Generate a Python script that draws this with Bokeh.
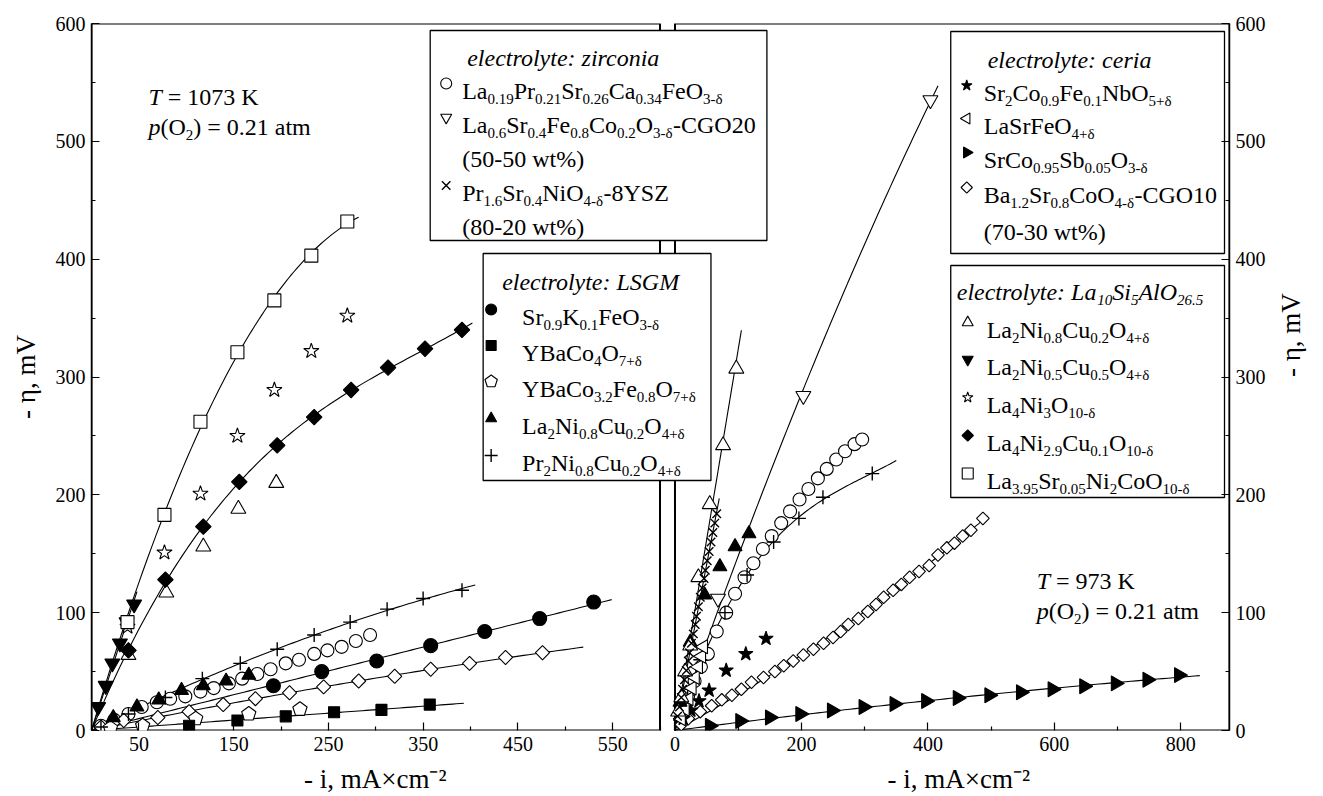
import numpy as np
from bokeh.plotting import figure
from bokeh.models import Range1d, LinearAxis, FixedTicker, Label
from bokeh.embed import file_html
from bokeh.resources import INLINE

# ---------------- DATA : left panel (T = 1073 K) ----------------
L_ocircle_x = [10, 24, 39, 53, 69, 83, 99, 115, 129, 145, 159, 175, 189, 205, 219, 235, 249, 264, 279, 294]
L_ocircle_y = [4, 9, 14, 20, 24, 27, 29, 33, 36, 40, 44, 48, 52, 57, 60, 65, 68, 71, 76, 81]
L_fcircle_x = [192, 243, 301, 358, 415, 473, 530]
L_fcircle_y = [38, 50, 59, 72, 84, 95, 109]
L_fsquare_x = [103, 154, 205, 256, 306, 357]
L_fsquare_y = [4, 8.5, 12, 15.5, 17.5, 22]
L_pent_x = [20, 54, 110, 166, 220]
L_pent_y = [2, 4, 10, 14, 18]
L_ftri_x = [23, 48, 71, 95, 118, 142, 166]
L_ftri_y = [11, 20, 26, 34, 38, 42, 47]
L_plus_x = [10, 39, 78, 117, 157, 196, 235, 273, 312, 350, 391]
L_plus_y = [3, 14, 28, 44, 57, 69, 81, 92, 103, 112, 119]
L_otri_x = [39, 79, 118, 155, 195]
L_otri_y = [64, 117, 156, 188, 210]
L_finv_x = [7, 15, 22, 30, 37, 45]
L_finv_y = [20, 38, 57, 74, 92, 107]
L_ostar_x = [38, 77, 115, 154, 193, 232, 270]
L_ostar_y = [88, 151, 201, 250, 289, 322, 352]
L_fdiam_x = [39, 78, 118, 156, 196, 235, 274, 313, 352, 391]
L_fdiam_y = [68, 128, 173, 211, 242, 266, 289, 308, 324, 340]
L_osquare_x = [38, 77, 115, 154, 193, 232, 270]
L_osquare_y = [92, 183, 262, 321, 365, 403, 432]
L_odiam_x = [10, 34, 70, 103, 139, 173, 209, 245, 282, 320, 358, 399, 437, 476]
L_odiam_y = [3, 8.5, 11, 16, 22, 27, 32, 37, 42, 46, 52, 57, 62, 66]

# ---------------- DATA : right panel (T = 973 K) ----------------
R_ocircle_x = [10, 21, 31, 41, 52, 66, 81, 95, 110, 124, 139, 153, 168, 182, 197, 211, 226, 240, 255, 269, 284, 296]
R_ocircle_y = [15, 30, 42, 54, 65, 84, 100, 116, 130, 142, 154, 165, 176, 186, 196, 205, 214, 222, 230, 237, 243, 247]
R_oinv_x = [68, 203, 404]
R_oinv_y = [112, 284, 535]
R_x_x = [4, 7, 10, 12, 15, 18, 21, 23, 26, 29, 32, 34, 37, 40, 43, 46, 48, 51, 54, 57, 60, 63, 66]
R_x_y = [12, 20, 28, 35, 43, 51, 59, 66, 74, 82, 90, 97, 105, 113, 121, 129, 136, 144, 152, 160, 168, 176, 184]
R_fstar_x = [13, 25, 38, 54, 81, 112, 144]
R_fstar_y = [10, 17, 25, 34, 51, 65, 78]
R_ltri_x = [10, 16, 22, 27, 32, 37, 42, 45]
R_ltri_y = [10, 18, 27, 36, 45, 54, 63, 71]
R_rtri_x = [55, 103, 150, 198, 248, 298, 347, 397, 447, 497, 547, 597, 647, 697, 747, 797]
R_rtri_y = [4, 8, 11, 14, 17, 20, 22.5, 25, 27.5, 30, 32.5, 35, 37.5, 40, 43, 47]
R_odiam_x = [10, 21, 40, 58, 74, 90, 105, 121, 140, 158, 172, 187, 203, 219, 235, 250, 262, 274, 290,
             305, 318, 330, 345, 358, 371, 386, 402, 416, 430, 442, 455, 468, 487]
R_odiam_y = [5, 10, 16, 21, 26, 30, 35, 41, 45, 50, 55, 59, 64, 69, 74, 79, 84, 90, 95,
             101, 107, 113, 119, 124, 130, 135, 140, 149, 155, 159, 165, 170, 180]
R_otri_x = [5, 10, 16, 24, 37, 55, 76, 97]
R_otri_y = [16, 28, 50, 72, 130, 192, 242, 307]
R_ftri_x = [8, 24, 47, 71, 95, 117]
R_ftri_y = [24, 75, 115, 139, 156, 167]
R_plus_x = [20, 40, 79, 114, 156, 196, 234, 312]
R_plus_y = [30, 60, 100, 132, 160, 180, 198, 218]

# axis ticks / labels
Y_TICKS = [0, 100, 200, 300, 400, 500, 600]
Y_MINOR = [50, 150, 250, 350, 450, 550]
XL_TICKS = [50, 150, 250, 350, 450, 550]
XL_MINOR = [100, 200, 300, 400, 500, 600]
XR_TICKS = [0, 200, 400, 600, 800]
XR_MINOR = [100, 300, 500, 700]
Y_TITLE = "- η, mV"
X_TITLE = "- i, mA×cm⁻²"

# ---------------- layout ----------------
W, H = 1323, 796
F_LEFT, F_RIGHT, F_TOP, F_BOTTOM = 91, 1230, 23, 730
L_PANEL_RIGHT, R_PANEL_LEFT = 660, 675
L_XMAX, R_XMAX, YMAX = 600, 877, 600
KXL = (L_PANEL_RIGHT - F_LEFT) / L_XMAX
KXR = (F_RIGHT - R_PANEL_LEFT) / R_XMAX
KY = (F_BOTTOM - F_TOP) / YMAX


def X(px):
    return (px - F_LEFT) / KXL


def Y(py):
    return (F_BOTTOM - py) / KY


def r2l(v):
    """position of a right-panel x value on the left-panel (default) x range"""
    return round(X(R_PANEL_LEFT + v * KXR), 4)


p = figure(width=W, height=H, output_backend="svg", toolbar_location=None,
           x_range=Range1d(0, (F_RIGHT - F_LEFT) / KXL), y_range=Range1d(0, YMAX),
           x_axis_type=None, y_axis_type=None,
           min_border_left=F_LEFT, min_border_right=W - F_RIGHT,
           min_border_top=F_TOP, min_border_bottom=H - F_BOTTOM)
p.extra_x_ranges = {"R": Range1d(-(R_PANEL_LEFT - F_LEFT) / KXR, R_XMAX)}
p.outline_line_color = None
p.background_fill_color = "white"
p.border_fill_color = "white"

FONT = "Liberation Serif"


def style_axis(ax):
    ax.major_tick_in = 8
    ax.major_tick_out = 0
    ax.minor_tick_in = 4
    ax.minor_tick_out = 0
    ax.axis_line_width = 1.5
    ax.major_tick_line_width = 1.2
    ax.minor_tick_line_width = 1.2
    ax.major_label_text_font = FONT
    ax.major_label_text_font_size = "20px"
    ax.major_label_text_color = "black"
    ax.major_label_standoff = 6
    ax.axis_label_text_font = FONT
    ax.axis_label_text_font_size = "27px"
    ax.axis_label_text_font_style = "normal"
    ax.axis_label_text_color = "black"


yl = LinearAxis(ticker=FixedTicker(ticks=Y_TICKS, minor_ticks=Y_MINOR), axis_label=Y_TITLE)
style_axis(yl)
yl.axis_label_standoff = 12
p.add_layout(yl, "left")

yr = LinearAxis(ticker=FixedTicker(ticks=Y_TICKS, minor_ticks=Y_MINOR), axis_label=Y_TITLE)
style_axis(yr)
yr.axis_label_standoff = 22
try:
    yr.axis_label_orientation = np.pi / 2
except Exception:
    pass
p.add_layout(yr, "right")

# one bottom axis carries the ticks of both panels
xb_ticks = [float(v) for v in XL_TICKS] + [r2l(v) for v in XR_TICKS]
xb_minor = [float(v) for v in XL_MINOR] + [r2l(v) for v in XR_MINOR]
xb_labels = {float(v): str(v) for v in XL_TICKS}
xb_labels.update({r2l(v): str(v) for v in XR_TICKS})
xb = LinearAxis(ticker=FixedTicker(ticks=xb_ticks, minor_ticks=xb_minor),
                major_label_overrides=xb_labels)
style_axis(xb)
xb.axis_line_color = None
p.add_layout(xb, "below")

# second bottom axis only carries the two axis titles
t_left, t_right = round(X(375), 4), round(X(959), 4)
xt = LinearAxis(ticker=FixedTicker(ticks=[t_left, t_right], minor_ticks=[]),
                major_label_overrides={t_left: X_TITLE, t_right: X_TITLE})
xt.axis_line_color = None
xt.major_tick_line_color = None
xt.minor_tick_line_color = None
xt.major_label_text_font = FONT
xt.major_label_text_font_size = "27px"
xt.major_label_text_color = "black"
xt.major_label_standoff = 4
p.add_layout(xt, "below")

# panel frames
p.quad(left=[0], right=[L_XMAX], bottom=[0], top=[YMAX], fill_color=None, line_color="black", line_width=2)
p.quad(left=[0], right=[R_XMAX], bottom=[0], top=[YMAX], fill_color=None, line_color="black",
       line_width=2, x_range_name="R")


# ---------------- helpers ----------------
def fit_origin(xs, ys, deg, x_end):
    xs = np.asarray(xs, float)
    ys = np.asarray(ys, float)
    A = np.column_stack([xs ** k for k in range(1, deg + 1)])
    coef = np.linalg.lstsq(A, ys, rcond=None)[0]
    xx = np.linspace(0, x_end, 100)
    yy = np.zeros_like(xx)
    for k, c in enumerate(coef, start=1):
        yy += c * xx ** k
    return xx, yy


def fline(xs, ys, deg, x_end, rng="default"):
    xx, yy = fit_origin(xs, ys, deg, x_end)
    p.line(xx, yy, line_color="black", line_width=1.1, x_range_name=rng)


STY = {
    'ocircle': dict(marker='circle', fill_color='white'),
    'fcircle': dict(marker='circle', fill_color='black'),
    'osquare': dict(marker='square', fill_color='white'),
    'fsquare': dict(marker='square', fill_color='black'),
    'otri': dict(marker='triangle', fill_color='white'),
    'ftri': dict(marker='triangle', fill_color='black'),
    'oinv': dict(marker='inverted_triangle', fill_color='white'),
    'finv': dict(marker='inverted_triangle', fill_color='black'),
    'odiam': dict(marker='square', fill_color='white', angle=np.pi / 4),
    'fdiam': dict(marker='square', fill_color='black', angle=np.pi / 4),
    'ostar': dict(marker='star', fill_color='white'),
    'fstar': dict(marker='star', fill_color='black'),
    'plus': dict(marker='cross', fill_color=None),
    'x': dict(marker='x', fill_color=None),
    'ltri': dict(marker='triangle', fill_color='white', angle=np.pi / 2),
    'rtri': dict(marker='triangle', fill_color='black', angle=-np.pi / 2),
}


def mk(xs, ys, kind, size, rng="default"):
    st = dict(STY[kind])
    lw = 1.4 if kind in ('plus', 'x') else 1.1
    p.scatter(xs, ys, size=size, line_color="black", line_width=lw, x_range_name=rng, **st)


def pent(xs, ys, r, rng="default", fill="white"):
    kx = KXL if rng == "default" else KXR
    px, py = [], []
    for x0, y0 in zip(xs, ys):
        ang = np.pi / 2 + 2 * np.pi * np.arange(5) / 5
        px.append(list(x0 + r * np.cos(ang) / kx))
        py.append(list(y0 + r * np.sin(ang) / KY))
    p.patches(px, py, fill_color=fill, line_color="black", line_width=1.1, x_range_name=rng)


# ---------------- left panel ----------------
fline(L_osquare_x, L_osquare_y, 3, 282)
fline(L_fdiam_x, L_fdiam_y, 3, 402)
fline(L_plus_x, L_plus_y, 2, 405)
fline(L_fcircle_x, L_fcircle_y, 1, 549)
fline(L_odiam_x, L_odiam_y, 2, 519)
fline(L_fsquare_x, L_fsquare_y, 1, 393)
fline(L_finv_x, L_finv_y, 1, 48)

mk(L_ocircle_x, L_ocircle_y, 'ocircle', 13)
mk(L_odiam_x, L_odiam_y, 'odiam', 10)
pent(L_pent_x, L_pent_y, 7.5)
mk(L_fsquare_x, L_fsquare_y, 'fsquare', 11)
mk(L_fcircle_x, L_fcircle_y, 'fcircle', 14)
mk(L_ftri_x, L_ftri_y, 'ftri', 14)
mk(L_plus_x, L_plus_y, 'plus', 14)
mk(L_otri_x, L_otri_y, 'otri', 15)
mk(L_finv_x, L_finv_y, 'finv', 15)
mk(L_ostar_x, L_ostar_y, 'ostar', 16)
mk(L_fdiam_x, L_fdiam_y, 'fdiam', 11)
mk(L_osquare_x, L_osquare_y, 'osquare', 13)

# ---------------- right panel ----------------
R = "R"
fline(R_oinv_x, R_oinv_y, 2, 416, R)
fline(R_otri_x, R_otri_y, 1, 105, R)
fline(R_x_x, R_x_y, 1, 70, R)
fline(R_plus_x, R_plus_y, 3, 350, R)
fline(R_odiam_x, R_odiam_y, 2, 495, R)
fline(R_rtri_x, R_rtri_y, 2, 830, R)

mk(R_odiam_x, R_odiam_y, 'odiam', 9, R)
mk(R_rtri_x, R_rtri_y, 'rtri', 15, R)
mk(R_fstar_x, R_fstar_y, 'fstar', 15, R)
mk(R_ocircle_x, R_ocircle_y, 'ocircle', 13, R)
mk(R_plus_x, R_plus_y, 'plus', 14, R)
mk(R_ltri_x, R_ltri_y, 'ltri', 14, R)
mk(R_ftri_x, R_ftri_y, 'ftri', 14, R)
mk(R_otri_x, R_otri_y, 'otri', 15, R)
mk(R_x_x, R_x_y, 'x', 12, R)
mk(R_oinv_x, R_oinv_y, 'oinv', 15, R)

# ---------------- rich text (sub/superscripts) ----------------
REG = {' ': 250, '(': 333, ')': 333, '%': 833, '+': 564, ',': 250, '-': 333, '.': 250, ':': 278,
       '=': 564, '×': 564, 'δ': 500, 'η': 500,
       'A': 722, 'B': 667, 'C': 667, 'D': 722, 'E': 611, 'F': 556, 'G': 722, 'H': 722, 'I': 333,
       'J': 389, 'K': 722, 'L': 611, 'M': 889, 'N': 722, 'O': 722, 'P': 556, 'Q': 722, 'R': 667,
       'S': 556, 'T': 611, 'U': 722, 'V': 722, 'W': 944, 'X': 722, 'Y': 722, 'Z': 611,
       'a': 444, 'b': 500, 'c': 444, 'd': 500, 'e': 444, 'f': 333, 'g': 500, 'h': 500, 'i': 278,
       'j': 278, 'k': 500, 'l': 278, 'm': 778, 'n': 500, 'o': 500, 'p': 500, 'q': 500, 'r': 333,
       's': 389, 't': 278, 'u': 500, 'v': 500, 'w': 722, 'x': 500, 'y': 500, 'z': 444}
ITA = {' ': 250, ':': 333, '.': 250, '-': 333, 'η': 500,
       'A': 611, 'G': 722, 'I': 333, 'L': 556, 'M': 833, 'O': 722, 'S': 500, 'T': 556,
       'a': 500, 'b': 500, 'c': 444, 'd': 500, 'e': 444, 'f': 278, 'g': 500, 'h': 500, 'i': 278,
       'l': 278, 'n': 500, 'o': 500, 'p': 500, 'r': 389, 's': 389, 't': 278, 'y': 444, 'z': 389}


def tw(s, size, ital):
    tab = ITA if ital else REG
    return sum(tab.get(ch, 500) for ch in s) * size / 1000.0


def parse(s, italic):
    out = []
    ital = italic
    buf = ''
    i = 0
    while i < len(s):
        ch = s[i]
        if ch == '~':
            if buf:
                out.append((buf, 'n', ital))
                buf = ''
            ital = not ital
            i += 1
        elif ch in '_^' and i + 1 < len(s) and s[i + 1] == '{':
            if buf:
                out.append((buf, 'n', ital))
                buf = ''
            j = s.index('}', i)
            out.append((s[i + 2:j], 'sub' if ch == '_' else 'sup', ital))
            i = j + 1
        else:
            buf += ch
            i += 1
    if buf:
        out.append((buf, 'n', ital))
    return out


def rich(px, py, s, size=24, italic=False, sub=15, sup=16):
    cur = 0.0
    for text, kind, ital in parse(s, italic):
        fs = size if kind == 'n' else (sub if kind == 'sub' else sup)
        off = 0.0 if kind == 'n' else (0.34 * size if kind == 'sub' else -0.42 * size)
        lead = len(text) - len(text.lstrip(' '))
        cur += tw(' ' * lead, fs, ital)
        body = text.strip(' ')
        if body:
            p.add_layout(Label(x=X(px + cur), y=Y(py + off), text=body,
                               text_font=FONT, text_font_size=f"{fs}px",
                               text_font_style="italic" if ital else "normal",
                               text_color="black", text_baseline="alphabetic", text_align="left"))
            cur += tw(body, fs, ital)
            trail = len(text) - len(text.rstrip(' '))
            cur += tw(' ' * trail, fs, ital)


def box(x0, y0, x1, y1):
    p.quad(left=[X(x0)], right=[X(x1)], top=[Y(y0)], bottom=[Y(y1)],
           fill_color="white", line_color="black", line_width=1.3)


def lmk(px, py, kind, size):
    if kind == 'pent':
        pent([X(px)], [Y(py)], 6.5)
    else:
        mk([X(px)], [Y(py)], kind, size)


# ---------------- legend boxes ----------------
box(430, 30, 767, 240)
box(483, 253, 711, 480)
box(951, 31, 1225, 253)
box(951, 265, 1225, 497)

# zirconia
rich(467, 57, "electrolyte: zirconia", italic=True)
zr_rows = [('ocircle', 83, "La_{0.19}Pr_{0.21}Sr_{0.26}Ca_{0.34}FeO_{3-δ}"),
           ('oinv', 117, "La_{0.6}Sr_{0.4}Fe_{0.8}Co_{0.2}O_{3-δ}-CGO20"),
           (None, 151, "(50-50 wt%)"),
           ('x', 185, "Pr_{1.6}Sr_{0.4}NiO_{4-δ}-8YSZ"),
           (None, 219, "(80-20 wt%)")]
for kind, cy, txt in zr_rows:
    if kind:
        lmk(446, cy, kind, 11 if kind != 'x' else 12)
    rich(462, cy + 7, txt)

# LSGM
rich(502, 281, "electrolyte: LSGM", italic=True)
lsgm_rows = [('fcircle', 309, "Sr_{0.9}K_{0.1}FeO_{3-δ}"),
             ('fsquare', 345, "YBaCo_{4}O_{7+δ}"),
             ('pent', 381, "YBaCo_{3.2}Fe_{0.8}O_{7+δ}"),
             ('ftri', 418, "La_{2}Ni_{0.8}Cu_{0.2}O_{4+δ}"),
             ('plus', 455, "Pr_{2}Ni_{0.8}Cu_{0.2}O_{4+δ}")]
for kind, cy, txt in lsgm_rows:
    lmk(491, cy, kind, 13 if kind == 'plus' else (11 if kind in ('fcircle', 'ftri') else 10))
    rich(522, cy + 7, txt)

# ceria
rich(988, 59, "electrolyte: ceria", italic=True)
ce_rows = [('fstar', 85, "Sr_{2}Co_{0.9}Fe_{0.1}NbO_{5+δ}"),
           ('ltri', 118, "LaSrFeO_{4+δ}"),
           ('rtri', 152, "SrCo_{0.95}Sb_{0.05}O_{3-δ}"),
           ('odiam', 187, "Ba_{1.2}Sr_{0.8}CoO_{4-δ}-CGO10"),
           (None, 224, "(70-30 wt%)")]
for kind, cy, txt in ce_rows:
    if kind:
        lmk(967, cy, kind, 8 if kind == 'odiam' else 11)
    rich(984, cy + 7, txt)

# La10Si5AlO26.5
rich(957, 291, "electrolyte: La_{10}Si_{5}AlO_{26.5}", italic=True)
la_rows = [('otri', 322, "La_{2}Ni_{0.8}Cu_{0.2}O_{4+δ}"),
           ('finv', 359, "La_{2}Ni_{0.5}Cu_{0.5}O_{4+δ}"),
           ('ostar', 397, "La_{4}Ni_{3}O_{10-δ}"),
           ('fdiam', 435, "La_{4}Ni_{2.9}Cu_{0.1}O_{10-δ}"),
           ('osquare', 473, "La_{3.95}Sr_{0.05}Ni_{2}CoO_{10-δ}")]
for kind, cy, txt in la_rows:
    lmk(968, cy, kind, 8 if kind == 'fdiam' else 11)
    rich(987, cy + 7, txt)

# conditions
rich(148, 96, "~T~ = 1073 K")
rich(148, 126, "~p~(O_{2}) = 0.21 atm")
rich(1037, 580, "~T~ = 973 K")
rich(1037, 610, "~p~(O_{2}) = 0.21 atm")

open("out.html", "w").write(file_html(p, INLINE))
